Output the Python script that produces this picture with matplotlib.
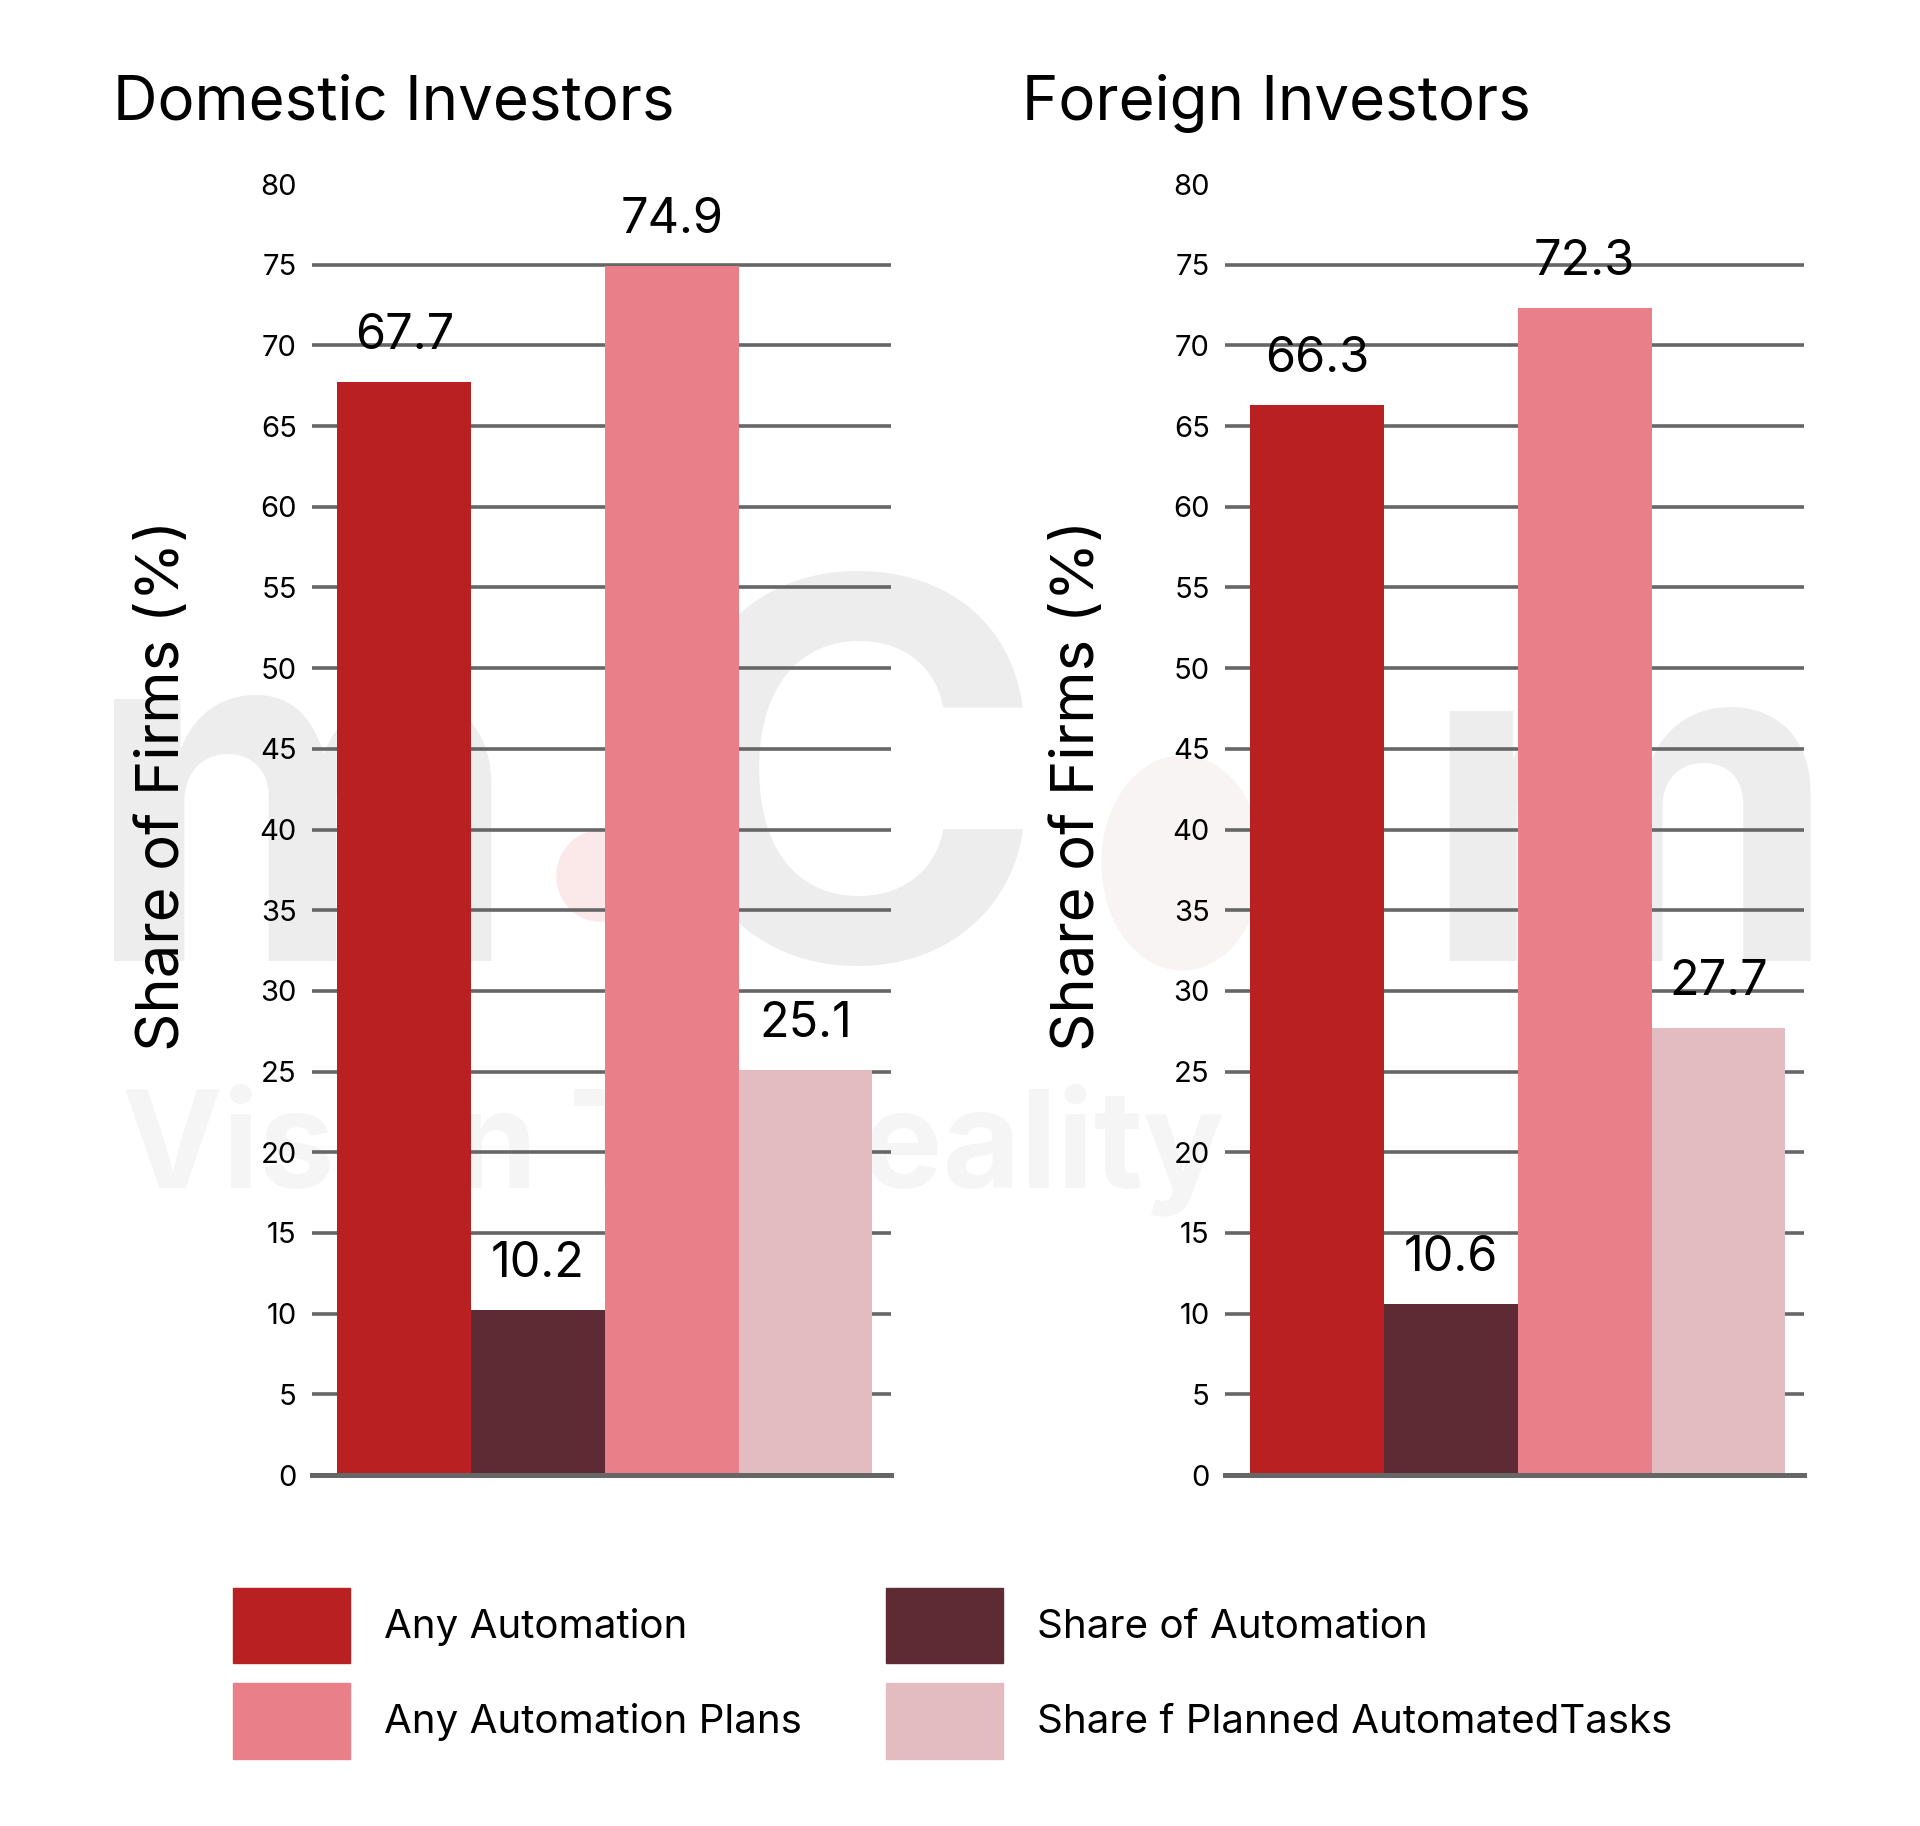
import matplotlib
matplotlib.use("Agg")
import matplotlib.pyplot as plt
import matplotlib.patches as mpatches

plt.rcParams['font.family'] = ['Inter', 'DejaVu Sans']

# --- data ---
series = ['Any Automation', 'Share of Automation', 'Any Automation Plans', 'Share f Planned AutomatedTasks']
colors = ['#B92022', '#5E2B35', '#E97F89', '#E3BCC1']
panels = ['Domestic Investors', 'Foreign Investors']
domestic = [67.7, 10.2, 74.9, 25.1]
foreign = [66.3, 10.6, 72.3, 27.7]
yticks = list(range(0, 85, 5))

W, H = 1920, 1826
fig = plt.figure(figsize=(W / 100, H / 100), dpi=100)

# faint watermark behind the charts
wm = dict(fontweight='bold', color='#ededed', ha='left', va='baseline', zorder=-2)
fig.text(84 / W, 1 - 961 / H, 'm', fontsize=345, **wm)
fig.text(655 / W, 1 - 961 / H, 'C', fontsize=380, **wm)
fig.text(1420 / W, 1 - 961 / H, 'm', fontsize=330, **wm)
fig.add_artist(mpatches.Ellipse((600 / W, 1 - 876 / H), 86 / W, 90 / H,
                                transform=fig.transFigure, color='#fbe8e8', zorder=-2))
fig.add_artist(mpatches.Ellipse((1182 / W, 1 - 863 / H), 160 / W, 214 / H,
                                transform=fig.transFigure, color='#f9f4f4', zorder=-1.5))
fig.text(122 / W, 1 - 1188 / H, 'Vision To Reality', fontsize=97, fontweight='bold',
         color='#f5f5f5', ha='left', va='baseline', zorder=-1)

axes_left = [312 / W, 1225 / W]
title_x = [113 / W, 1022 / W]
ylabel_x = [164 / W, 1078 / W]
bottom = 1 - 1475 / H
height = (1475 - 184) / H

for i, (name, vals) in enumerate(zip(panels, [domestic, foreign])):
    ax = fig.add_axes([axes_left[i], bottom, 579 / W, height])
    ax.set_facecolor('none')
    ax.set_axisbelow(True)
    xs = range(len(vals))
    bars = ax.bar(xs, vals, width=1.0, color=colors, linewidth=0)
    for b, v in zip(bars, vals):
        ax.annotate(f'{v}', xy=(b.get_x() + b.get_width() / 2, v),
                    xytext=(0, 24), textcoords='offset points',
                    ha='center', va='baseline', fontsize=35, color='black')
    ax.set_xlim(-0.69, 3.64)
    ax.set_ylim(0, 80)
    ax.set_yticks(yticks)
    ax.set_xticks([])
    ax.tick_params(axis='y', length=0, pad=11, labelsize=21)
    for y in yticks[1:-1]:
        ax.axhline(y, color='#666666', linewidth=2.6, zorder=0.5)
    for s in ['top', 'right', 'left']:
        ax.spines[s].set_visible(False)
    ax.spines['bottom'].set_color('#666666')
    ax.spines['bottom'].set_linewidth(3.6)
    fig.text(title_x[i], 1 - 120 / H, name, fontsize=44.5, ha='left', va='baseline')
    fig.text(ylabel_x[i], 1 - 785 / H, 'Share of Firms (%)', fontsize=43,
             rotation=90, ha='center', va='center')

# legend (row-major in the picture -> column-first order for matplotlib)
handles = [mpatches.Patch(color=c, label=s) for c, s in zip(colors, series)]
order = [0, 2, 1, 3]
fig.legend([handles[k] for k in order], [series[k] for k in order],
           ncol=2, loc='upper left', bbox_to_anchor=(233 / W, 1 - 1588 / H),
           frameon=False, fontsize=29, borderpad=0, borderaxespad=0,
           handlelength=2.9, handleheight=2.5, handletextpad=0.85,
           labelspacing=0.5, columnspacing=2.09)

fig.savefig('out.png', dpi=100, facecolor='white')
